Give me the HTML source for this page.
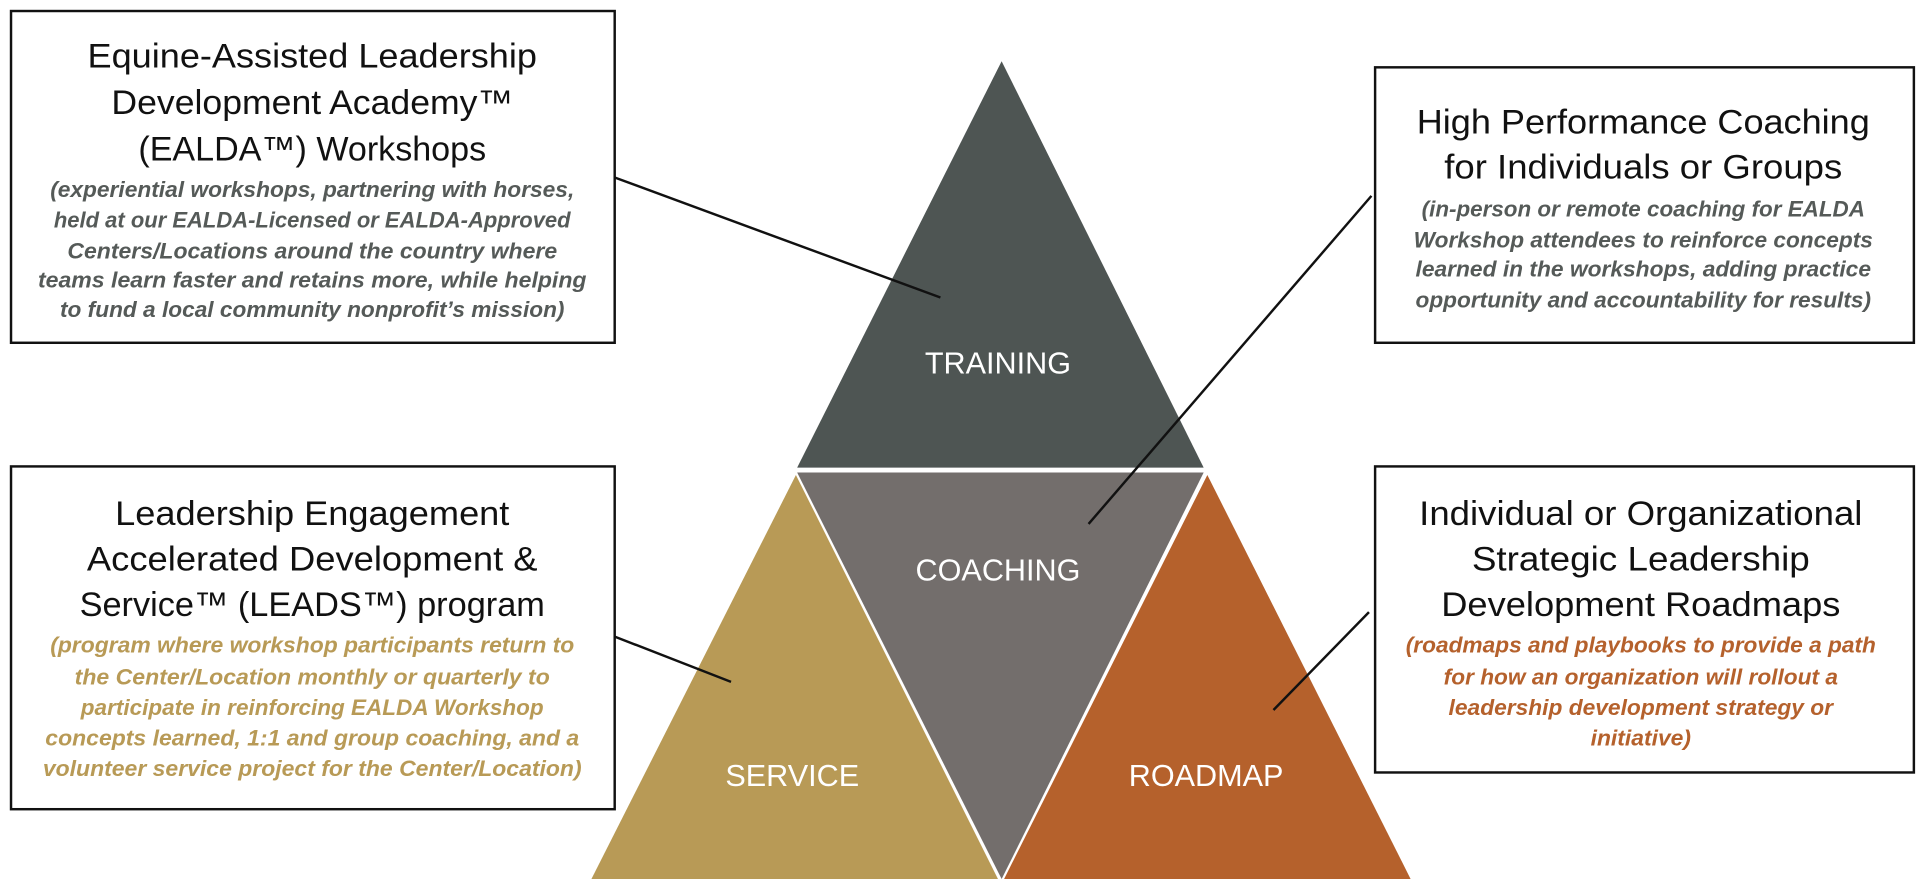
<!DOCTYPE html>
<html><head><meta charset="utf-8"><style>
html,body{margin:0;padding:0;background:#fff;width:1920px;height:890px;overflow:hidden}
svg{display:block}
text{font-family:"Liberation Sans Narrow","Liberation Sans",sans-serif}
.t{font-size:28px;fill:#111}
.i{font-size:18px;font-style:italic;font-weight:bold}
.g{fill:#555a58}.y{fill:#b89a56}.o{fill:#b5612c}
.l{font-size:25px;fill:#fff}
</style></head><body>
<svg width="1920" height="890" viewBox="0 0 1568 727" preserveAspectRatio="none">
<rect width="1568" height="727" fill="#fff"/>
<polygon points="818,50 651,382 983,382" fill="#4e5553"/>
<polygon points="651,386 983,386 818,718" fill="#736e6c"/>
<polygon points="650,388 483,718 815,718" fill="#b89a56"/>
<polygon points="986,388 820,718 1152,718" fill="#b5612c"/>
<g text-anchor="middle">
<text class="l" x="815" y="305">TRAINING</text>
<text class="l" x="815" y="474">COACHING</text>
<text class="l" x="647" y="642">SERVICE</text>
<text class="l" x="985" y="642">ROADMAP</text>
</g>
<g fill="none" stroke="#111" stroke-width="2">
<rect x="9" y="9" width="493" height="271"/>
<rect x="1123" y="55" width="440" height="225"/>
<rect x="9" y="381" width="493" height="280"/>
<rect x="1123" y="381" width="440" height="250"/>
<line x1="502" y1="145" x2="768" y2="243"/>
<line x1="1120" y1="160" x2="889" y2="428"/>
<line x1="502" y1="520" x2="597" y2="557"/>
<line x1="1118" y1="500" x2="1040" y2="580"/>
</g>
<g text-anchor="middle">
<text class="t" x="255" y="55" textLength="367" lengthAdjust="spacingAndGlyphs">Equine-Assisted Leadership</text>
<text class="t" x="255" y="93" textLength="328" lengthAdjust="spacingAndGlyphs">Development Academy™</text>
<text class="t" x="255" y="131" textLength="284" lengthAdjust="spacingAndGlyphs">(EALDA™) Workshops</text>
<text class="i g" x="255" y="161" textLength="428" lengthAdjust="spacingAndGlyphs">(experiential workshops, partnering with horses,</text>
<text class="i g" x="255" y="186" textLength="422" lengthAdjust="spacingAndGlyphs">held at our EALDA-Licensed or EALDA-Approved</text>
<text class="i g" x="255" y="211" textLength="400" lengthAdjust="spacingAndGlyphs">Centers/Locations around the country where</text>
<text class="i g" x="255" y="235" textLength="448" lengthAdjust="spacingAndGlyphs">teams learn faster and retains more, while helping</text>
<text class="i g" x="255" y="259" textLength="412" lengthAdjust="spacingAndGlyphs">to fund a local community nonprofit’s mission)</text>

<text class="t" x="1342" y="109" textLength="370" lengthAdjust="spacingAndGlyphs">High Performance Coaching</text>
<text class="t" x="1342" y="146" textLength="325" lengthAdjust="spacingAndGlyphs">for Individuals or Groups</text>
<text class="i g" x="1342" y="177" textLength="362" lengthAdjust="spacingAndGlyphs">(in-person or remote coaching for EALDA</text>
<text class="i g" x="1342" y="202" textLength="375" lengthAdjust="spacingAndGlyphs">Workshop attendees to reinforce concepts</text>
<text class="i g" x="1342" y="226" textLength="372" lengthAdjust="spacingAndGlyphs">learned in the workshops, adding practice</text>
<text class="i g" x="1342" y="251" textLength="372" lengthAdjust="spacingAndGlyphs">opportunity and accountability for results)</text>

<text class="t" x="255" y="429" textLength="322" lengthAdjust="spacingAndGlyphs">Leadership Engagement</text>
<text class="t" x="255" y="466" textLength="368" lengthAdjust="spacingAndGlyphs">Accelerated Development &amp;</text>
<text class="t" x="255" y="503" textLength="380" lengthAdjust="spacingAndGlyphs">Service™ (LEADS™) program</text>
<text class="i y" x="255" y="533" textLength="428" lengthAdjust="spacingAndGlyphs">(program where workshop participants return to</text>
<text class="i y" x="255" y="559" textLength="388" lengthAdjust="spacingAndGlyphs">the Center/Location monthly or quarterly to</text>
<text class="i y" x="255" y="584" textLength="378" lengthAdjust="spacingAndGlyphs">participate in reinforcing EALDA Workshop</text>
<text class="i y" x="255" y="609" textLength="436" lengthAdjust="spacingAndGlyphs">concepts learned, 1:1 and group coaching, and a</text>
<text class="i y" x="255" y="634" textLength="440" lengthAdjust="spacingAndGlyphs">volunteer service project for the Center/Location)</text>

<text class="t" x="1340" y="429" textLength="362" lengthAdjust="spacingAndGlyphs">Individual or Organizational</text>
<text class="t" x="1340" y="466" textLength="276" lengthAdjust="spacingAndGlyphs">Strategic Leadership</text>
<text class="t" x="1340" y="503" textLength="326" lengthAdjust="spacingAndGlyphs">Development Roadmaps</text>
<text class="i o" x="1340" y="533" textLength="384" lengthAdjust="spacingAndGlyphs">(roadmaps and playbooks to provide a path</text>
<text class="i o" x="1340" y="559" textLength="322" lengthAdjust="spacingAndGlyphs">for how an organization will rollout a</text>
<text class="i o" x="1340" y="584" textLength="314" lengthAdjust="spacingAndGlyphs">leadership development strategy or</text>
<text class="i o" x="1340" y="609" textLength="82" lengthAdjust="spacingAndGlyphs">initiative)</text>
</g>
</svg>
</body></html>
